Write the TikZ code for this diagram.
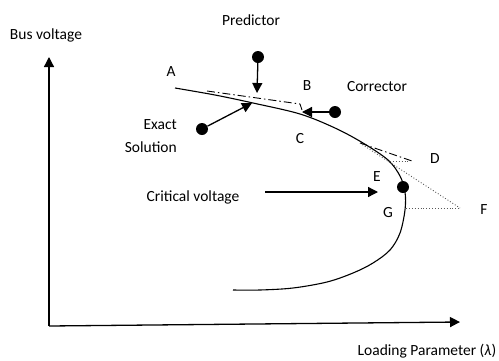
\documentclass[tikz,border=0pt]{standalone}
\usepackage{fontspec}
\setmainfont{Carlito}
\usetikzlibrary{arrows.meta}
\begin{document}
\begin{tikzpicture}[x=1pt,y=-1pt,
  lbl/.style={font=\fontsize{15.5}{18}\selectfont, inner sep=0pt},
  dotnode/.style={circle, fill=black, minimum size=12pt, inner sep=0pt},
  arr/.style={-{Triangle[length=10pt,width=10pt]}, line width=1.3pt},
  curve/.style={line width=1.1pt},
  ddot/.style={dash pattern=on 8pt off 3pt on 1.5pt off 3pt, line width=0.9pt},
  dots/.style={dotted, line width=0.9pt, gray!70!black}]
\useasboundingbox (0,0) rectangle (499,360);
% axes
\coordinate (O) at (49,326);
\coordinate (ytip) at (49,57);
\coordinate (xtip) at (460,322);
\draw[arr] (O) -- (ytip);
\draw[arr] (O) -- (xtip);
% labels
\node[lbl] (busv) at (46,35) {Bus voltage};
\node[lbl] (load) at (427,351) {Loading Parameter (\textit{λ})};
\node[lbl] (pred) at (251,20) {Predictor};
\node[lbl] (corr) at (377,87) {Corrector};
\node[lbl, anchor=east] (exact) at (177,125) {Exact};
\node[lbl, anchor=east] (sol) at (177,147) {Solution};
\node[lbl] (crit) at (193,197) {Critical voltage};
\node[lbl] (A) at (171,72) {A};
\node[lbl] (B) at (307,86) {B};
\node[lbl] (C) at (300,139) {C};
\node[lbl] (D) at (435,159) {D};
\node[lbl] (E) at (377,177) {E};
\node[lbl] (F) at (484,210) {F};
\node[lbl] (G) at (388,213) {G};
% PV curve
\draw[curve] plot[smooth, tension=0.55] coordinates {(175,88) (215,95) (253,103) (300,114) (335,128) (363,143) (388,160) (400,176) (405,192) (405,210) (400,233) (390,250) (373,263) (353,273) (327,282) (293,288) (260,290) (233,290)};
% predictor / corrector steps
\coordinate (p1s) at (207,91);
\coordinate (p1e) at (300,104);
\coordinate (c1e) at (302,110);
\draw[ddot] (p1s) -- (p1e) -- (c1e);
\coordinate (p2s) at (360,143);
\coordinate (p2e) at (412,161);
\draw[ddot] (p2s) -- (p2e);
\coordinate (h1s) at (390,161);
\coordinate (h1e) at (410,161);
\draw[dots] (h1s) -- (h1e);
\coordinate (t2e) at (460,208);
\draw[dots] (p2s) -- (t2e);
\coordinate (g1) at (406,208);
\draw[dots] (g1) -- (t2e);
% markers and arrows
\node[dotnode] (dpred) at (258,57) {};
\coordinate (tpred) at (257,93);
\draw[arr] (dpred) -- (tpred);
\node[dotnode] (dcorr) at (335,112) {};
\coordinate (tcorr) at (302,112);
\draw[arr] (dcorr) -- (tcorr);
\node[dotnode] (dexact) at (202,129) {};
\coordinate (texact) at (252,103);
\draw[arr] (dexact) -- (texact);
\node[dotnode] (dcrit) at (403,187) {};
\coordinate (scrit) at (265,192);
\coordinate (tcrit) at (378,192);
\draw[arr] (scrit) -- (tcrit);
\end{tikzpicture}
\end{document}
